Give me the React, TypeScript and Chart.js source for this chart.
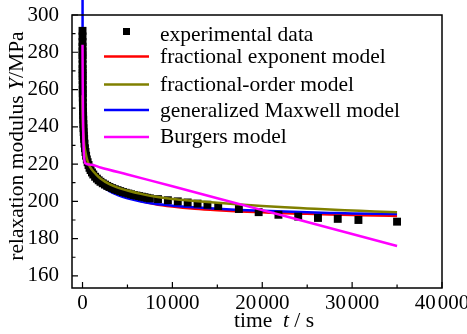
import React, { useEffect, useRef } from 'react';
import { Chart, registerables } from 'chart.js';

Chart.register(...registerables);

const FONT = '"Liberation Serif", "Times New Roman", Times, serif';
const TICK_SIZE = 21;
const TEXT_SIZE = 21.5;

// Measured relaxation modulus (MPa) against time (s)
const expTime = [
  0, 1, 2, 3, 4, 5, 6, 8, 10, 12, 14, 17, 20, 24, 28, 33, 40, 48, 57, 68, 80, 95, 112, 132, 155, 180,
  220, 270, 330, 400, 480, 570, 670, 780, 900, 1050, 1200, 1400, 1600, 1800, 2000, 2250, 2500, 2750,
  3000, 3300, 3600, 3900, 4200, 4500, 4800, 5100, 5400, 5700, 6000, 6300, 6600, 6900, 7200, 7500,
  8400, 9500, 10600, 11700, 12800, 13900, 15100, 17400, 19600, 21800, 24000, 26200, 28400, 30700, 35000,
];
const expModulus = [
  291.5, 288.5, 285.5, 283, 280.5, 278.5, 276.5, 273.5, 271, 269, 267.2, 265, 262.5, 260, 258, 255.7,
  253, 250.5, 248.2, 246, 243.8, 241.5, 239.3, 237.2, 235.2, 233.5,
  231, 228.5, 226.5, 224.5, 222.5, 221, 219.5, 218, 216.8, 215.5, 214.4, 213.2, 212.2, 211.3, 210.5,
  209.7, 209, 208.3, 207.7, 207.1, 206.5, 206, 205.5, 205, 204.6, 204.2, 203.8, 203.4, 203.1, 202.8,
  202.5, 202.2, 201.9, 201.6,
  201.2, 200.6, 200, 199.4, 198.8, 198.2, 197.5, 195.9, 194.2, 192.8, 191.8, 191.1, 190.6, 190, 189.1,
];

// Model curves sampled on a shared time grid (s)
const modelTime = [
  0, 10, 25, 50, 100, 200, 300, 450, 700, 1000, 1500, 2000, 3000, 4000, 5000, 6500, 8000, 10000,
  12500, 15000, 17500, 20000, 22500, 25000, 27500, 30000, 32500, 35000,
];
const fracExponentModulus = [
  292, 276, 265, 255, 245, 236, 231.5, 227, 222, 218, 213.5, 210.5, 207, 204.5, 202.5, 200.2, 198.6,
  197.2, 196, 195.2, 194.6, 194.1, 193.6, 193.3, 193, 192.7, 192.4, 192.2,
];
const fracOrderModulus = [
  257, 250, 245, 240, 236, 230, 227, 223.5, 219.8, 217.3, 214.5, 212.3, 209.2, 207.2, 205.8, 204,
  202.6, 201.3, 200.2, 199.2, 198.3, 197.5, 196.8, 196.2, 195.6, 195.1, 194.6, 194.2,
];
const maxwellModulus = [
  340, 282, 265, 252, 241, 231, 226.5, 222, 218, 214.5, 211, 208.8, 205.5, 203.2, 201.6, 199.9, 198.7,
  197.7, 196.8, 196, 195.4, 194.9, 194.5, 194.1, 193.8, 193.5, 193.3, 193.2,
];
const burgersTime = [0, 25, 50, 75, 100, 150, 200, 300, 1000, 2000, 5000, 10000, 15000, 20000, 25000, 30000, 35000];
const burgersModulus = [284, 263, 249, 239, 232.5, 225.8, 222.6, 220.4, 219.6, 218.2, 214.4, 208.1, 201.7, 195.3, 188.9, 182.5, 176];

const seriesLabels = [
  'experimental data',
  'fractional exponent model',
  'fractional-order model',
  'generalized Maxwell model',
  'Burgers model',
];
const seriesColors = ['#000000', '#ff0000', '#808000', '#0000ff', '#ff00ff'];

const xMajorTicks = [0, 10000, 20000, 30000, 40000];
const xTickLabels = ['0', '10\u200A000', '20\u200A000', '30\u200A000', '40\u200A000'];
const xMinorTicks = [5000, 15000, 25000, 35000];
const yMajorTicks = [160, 180, 200, 220, 240, 260, 280, 300];
const yTickLabels = ['160', '180', '200', '220', '240', '260', '280', '300'];
const yMinorTicks = [170, 190, 210, 230, 250, 270, 290];

const pairs = (xs: number[], ys: number[]) => xs.map((x, i) => ({ x, y: ys[i] }));

type Part = [string, boolean];

function drawRich(ctx: CanvasRenderingContext2D, parts: Part[], cx: number, baseline: number) {
  const widths = parts.map(([text, italic]) => {
    ctx.font = `${italic ? 'italic ' : ''}${TEXT_SIZE}px ${FONT}`;
    return ctx.measureText(text).width;
  });
  const total = widths.reduce((a, b) => a + b, 0);
  let x = cx - total / 2;
  ctx.textAlign = 'left';
  ctx.textBaseline = 'alphabetic';
  parts.forEach(([text, italic], i) => {
    ctx.font = `${italic ? 'italic ' : ''}${TEXT_SIZE}px ${FONT}`;
    ctx.fillText(text, x, baseline);
    x += widths[i];
  });
}

// Frame, inward tick marks, axis titles and the in-plot legend
const decorPlugin = {
  id: 'decor',
  afterDraw(chart: any) {
    const { ctx, chartArea: a, scales } = chart;
    const xs = scales.x;
    const ys = scales.y;
    ctx.save();
    ctx.strokeStyle = '#000';
    ctx.fillStyle = '#000';
    ctx.lineWidth = 1.5;
    ctx.strokeRect(a.left, a.top, a.right - a.left, a.bottom - a.top);

    ctx.lineWidth = 1.2;
    ctx.beginPath();
    xMajorTicks.forEach((v) => {
      const p = xs.getPixelForValue(v);
      ctx.moveTo(p, a.bottom);
      ctx.lineTo(p, a.bottom - 6);
    });
    xMinorTicks.forEach((v) => {
      const p = xs.getPixelForValue(v);
      ctx.moveTo(p, a.bottom);
      ctx.lineTo(p, a.bottom - 3.5);
    });
    yMajorTicks.forEach((v) => {
      const p = ys.getPixelForValue(v);
      ctx.moveTo(a.left, p);
      ctx.lineTo(a.left + 6, p);
    });
    yMinorTicks.forEach((v) => {
      const p = ys.getPixelForValue(v);
      ctx.moveTo(a.left, p);
      ctx.lineTo(a.left + 3.5, p);
    });
    ctx.stroke();

    // axis titles
    drawRich(ctx, [['time  ', false], ['t', true], [' / s', false]], 274, 327);
    ctx.save();
    ctx.translate(23, 146);
    ctx.rotate(-Math.PI / 2);
    drawRich(ctx, [['relaxation modulus ', false], ['Y', true], ['/MPa', false]], 0, 0);
    ctx.restore();

    // legend
    const markY = [31.5, 56.5, 84.5, 110, 137];
    const textY = [40.5, 63, 91, 116.5, 142.5];
    const lineX0 = 104;
    const lineX1 = 149;
    const textX = 160;
    ctx.font = `${TEXT_SIZE}px ${FONT}`;
    ctx.textAlign = 'left';
    ctx.textBaseline = 'alphabetic';
    seriesLabels.forEach((label, i) => {
      if (i === 0) {
        ctx.fillStyle = seriesColors[0];
        ctx.fillRect((lineX0 + lineX1) / 2 - 3.5, markY[i] - 3.5, 7, 7);
      } else {
        ctx.strokeStyle = seriesColors[i];
        ctx.lineWidth = 2.5;
        ctx.beginPath();
        ctx.moveTo(lineX0, markY[i]);
        ctx.lineTo(lineX1, markY[i]);
        ctx.stroke();
      }
      ctx.fillStyle = '#000';
      ctx.fillText(label, textX, textY[i]);
    });
    ctx.restore();
  },
};

export default function App() {
  const ref = useRef<HTMLCanvasElement>(null);

  useEffect(() => {
    const canvas = ref.current;
    if (!canvas) return;
    const lineBase = {
      showLine: true,
      pointRadius: 0,
      borderWidth: 2.5,
      cubicInterpolationMode: 'monotone' as const,
      fill: false,
    };
    const chart = new Chart(canvas, {
      type: 'scatter',
      data: {
        datasets: [
          {
            label: seriesLabels[0],
            data: pairs(expTime, expModulus),
            showLine: false,
            pointStyle: 'rect',
            pointRadius: 5.6,
            pointBackgroundColor: seriesColors[0],
            pointBorderWidth: 0,
            order: 3,
          },
          {
            ...lineBase,
            label: seriesLabels[1],
            data: pairs(modelTime, fracExponentModulus),
            borderColor: seriesColors[1],
            order: 5,
          },
          {
            ...lineBase,
            label: seriesLabels[2],
            data: pairs(modelTime, fracOrderModulus),
            borderColor: seriesColors[2],
            order: 2,
          },
          {
            ...lineBase,
            label: seriesLabels[3],
            data: pairs(modelTime, maxwellModulus),
            borderColor: seriesColors[3],
            clip: false,
            order: 4,
          },
          {
            ...lineBase,
            label: seriesLabels[4],
            data: pairs(burgersTime, burgersModulus),
            borderColor: seriesColors[4],
            order: 1,
          },
        ] as any,
      },
      options: {
        animation: false,
        responsive: false,
        devicePixelRatio: 1,
        layout: { padding: { top: 15, right: 25, left: 0, bottom: 0 } },
        plugins: { legend: { display: false }, tooltip: { enabled: false } },
        scales: {
          x: {
            type: 'linear',
            min: -1170,
            max: 40000,
            grid: { display: false },
            border: { display: false },
            afterBuildTicks: (s: any) => {
              s.ticks = xMajorTicks.map((value) => ({ value }));
            },
            afterFit: (s: any) => {
              s.height = 46;
              s.paddingLeft = 0;
              s.paddingRight = 0;
            },
            ticks: {
              color: '#000',
              font: { family: FONT, size: TICK_SIZE },
              padding: -5,
              maxRotation: 0,
              autoSkip: false,
              callback: (_v: any, i: number) => xTickLabels[i],
            },
          },
          y: {
            type: 'linear',
            min: 153.5,
            max: 300,
            grid: { display: false },
            border: { display: false },
            afterBuildTicks: (s: any) => {
              s.ticks = yMajorTicks.map((value) => ({ value }));
            },
            afterFit: (s: any) => {
              s.width = 72;
              s.paddingTop = 0;
              s.paddingBottom = 0;
            },
            ticks: {
              color: '#000',
              font: { family: FONT, size: TICK_SIZE },
              padding: 5,
              autoSkip: false,
              callback: (_v: any, i: number) => yTickLabels[i],
            },
          },
        },
      } as any,
      plugins: [decorPlugin],
    });
    return () => chart.destroy();
  }, []);

  return (
    <div style={{ position: 'fixed', left: 0, top: 0, width: 467, height: 334, background: '#fff' }}>
      <canvas ref={ref} width={467} height={334} style={{ display: 'block', width: 467, height: 334 }} />
    </div>
  );
}
